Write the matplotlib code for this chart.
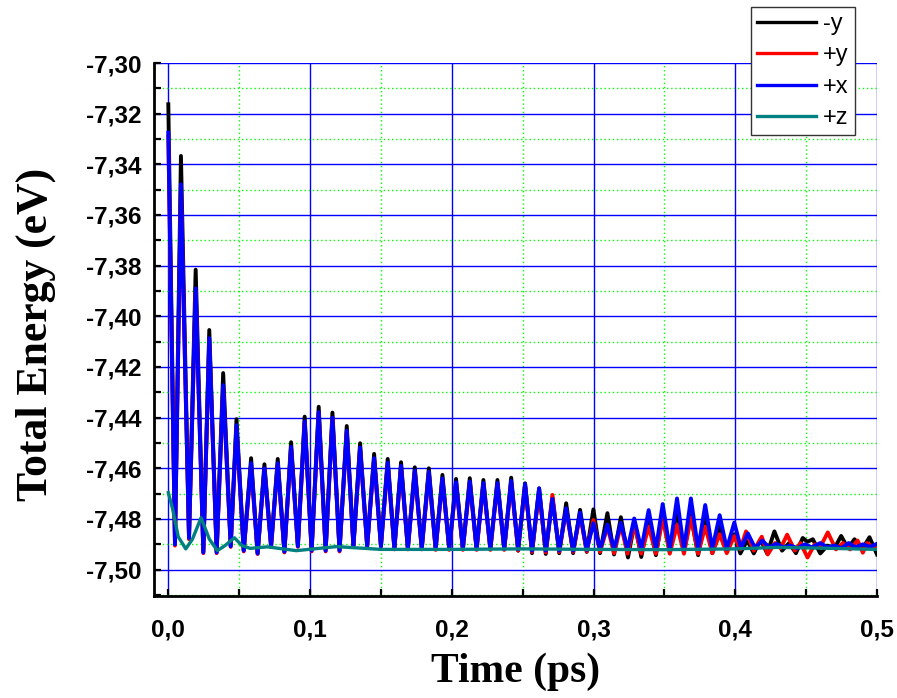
import numpy as np
import matplotlib.pyplot as plt
from matplotlib.ticker import MultipleLocator, FuncFormatter

# turning points (time in ps, energy in eV) of each trajectory
t_ymin = [0.0000, 0.0047, 0.0089, 0.0146, 0.0193, 0.0247, 0.0289, 0.0341, 0.0387, 0.0440,
          0.0481, 0.0532, 0.0584, 0.0630, 0.0678, 0.0725, 0.0772, 0.0819, 0.0866, 0.0914,
          0.0962, 0.1011, 0.1061, 0.1110, 0.1158, 0.1208, 0.1259, 0.1306, 0.1353, 0.1403,
          0.1452, 0.1500, 0.1548, 0.1595, 0.1642, 0.1690, 0.1739, 0.1788, 0.1838, 0.1886,
          0.1934, 0.1982, 0.2030, 0.2078, 0.2127, 0.2175, 0.2223, 0.2272, 0.2322, 0.2370,
          0.2419, 0.2468, 0.2517, 0.2566, 0.2616, 0.2663, 0.2710, 0.2758, 0.2807, 0.2856,
          0.2905, 0.2952, 0.2999, 0.3046, 0.3098, 0.3145, 0.3193, 0.3243, 0.3290, 0.3337,
          0.3389, 0.3440, 0.3488, 0.3538, 0.3589, 0.3638, 0.3687, 0.3738, 0.3788, 0.3838,
          0.3890, 0.3940, 0.3993, 0.4036, 0.4084, 0.4131, 0.4178, 0.4225, 0.4276, 0.4330,
          0.4380, 0.4428, 0.4476, 0.4510, 0.4547, 0.4600, 0.4650, 0.4700, 0.4747, 0.4795,
          0.4841, 0.4900, 0.4947, 0.5000]
e_ymin = [-7.3163, -7.4892, -7.3367, -7.4870, -7.3816, -7.4929, -7.4054, -7.4929, -7.4224, -7.4905,
          -7.4406, -7.4923, -7.4560, -7.4936, -7.4584, -7.4905, -7.4563, -7.4929, -7.4497, -7.4905,
          -7.4396, -7.4923, -7.4357, -7.4923, -7.4380, -7.4923, -7.4433, -7.4905, -7.4501, -7.4905,
          -7.4543, -7.4905, -7.4563, -7.4915, -7.4576, -7.4915, -7.4596, -7.4915, -7.4600, -7.4918,
          -7.4626, -7.4918, -7.4642, -7.4918, -7.4639, -7.4918, -7.4646, -7.4918, -7.4646, -7.4918,
          -7.4637, -7.4925, -7.4659, -7.4935, -7.4679, -7.4938, -7.4715, -7.4935, -7.4738, -7.4935,
          -7.4764, -7.4930, -7.4762, -7.4935, -7.4777, -7.4940, -7.4793, -7.4952, -7.4815, -7.4950,
          -7.4800, -7.4943, -7.4785, -7.4930, -7.4765, -7.4930, -7.4785, -7.4943, -7.4798, -7.4935,
          -7.4830, -7.4925, -7.4860, -7.4936, -7.4884, -7.4936, -7.4881, -7.4936, -7.4849, -7.4925,
          -7.4895, -7.4935, -7.4875, -7.4890, -7.4880, -7.4936, -7.4905, -7.4915, -7.4867, -7.4915,
          -7.4880, -7.4915, -7.4872, -7.4940]

t_yplus = [0.0000, 0.0047, 0.0089, 0.0146, 0.0193, 0.0247, 0.0289, 0.0341, 0.0387, 0.0440,
           0.0481, 0.0532, 0.0584, 0.0630, 0.0678, 0.0725, 0.0772, 0.0819, 0.0866, 0.0914,
           0.0962, 0.1011, 0.1061, 0.1110, 0.1158, 0.1208, 0.1259, 0.1306, 0.1353, 0.1403,
           0.1452, 0.1500, 0.1548, 0.1595, 0.1642, 0.1690, 0.1739, 0.1788, 0.1838, 0.1886,
           0.1934, 0.1982, 0.2030, 0.2078, 0.2127, 0.2175, 0.2223, 0.2272, 0.2322, 0.2370,
           0.2419, 0.2468, 0.2517, 0.2566, 0.2616, 0.2663, 0.2710, 0.2758, 0.2807, 0.2856,
           0.2905, 0.2952, 0.2999, 0.3046, 0.3098, 0.3145, 0.3193, 0.3240, 0.3287, 0.3337,
           0.3389, 0.3440, 0.3488, 0.3538, 0.3589, 0.3638, 0.3687, 0.3738, 0.3788, 0.3838,
           0.3890, 0.3940, 0.3993, 0.4035, 0.4076, 0.4130, 0.4187, 0.4229, 0.4280, 0.4320,
           0.4366, 0.4420, 0.4460, 0.4510, 0.4560, 0.4600, 0.4653, 0.4710, 0.4760, 0.4810,
           0.4863, 0.4900, 0.4930, 0.4980, 0.5000]
e_yplus = [-7.3290, -7.4905, -7.3490, -7.4880, -7.3900, -7.4935, -7.4095, -7.4935, -7.4280, -7.4910,
           -7.4440, -7.4928, -7.4588, -7.4938, -7.4606, -7.4910, -7.4586, -7.4932, -7.4520, -7.4910,
           -7.4420, -7.4928, -7.4384, -7.4928, -7.4405, -7.4928, -7.4458, -7.4910, -7.4522, -7.4910,
           -7.4565, -7.4910, -7.4583, -7.4920, -7.4595, -7.4920, -7.4615, -7.4920, -7.4619, -7.4922,
           -7.4645, -7.4922, -7.4660, -7.4922, -7.4657, -7.4922, -7.4663, -7.4922, -7.4663, -7.4922,
           -7.4655, -7.4925, -7.4668, -7.4930, -7.4690, -7.4932, -7.4705, -7.4930, -7.4765, -7.4930,
           -7.4785, -7.4928, -7.4804, -7.4930, -7.4830, -7.4935, -7.4825, -7.4937, -7.4824, -7.4937,
           -7.4830, -7.4937, -7.4798, -7.4937, -7.4824, -7.4937, -7.4794, -7.4937, -7.4830, -7.4935,
           -7.4860, -7.4935, -7.4868, -7.4920, -7.4849, -7.4925, -7.4870, -7.4940, -7.4895, -7.4915,
           -7.4862, -7.4925, -7.4895, -7.4952, -7.4900, -7.4910, -7.4853, -7.4920, -7.4895, -7.4920,
           -7.4885, -7.4933, -7.4895, -7.4915, -7.4905]

t_xplus = [0.0000, 0.0047, 0.0089, 0.0146, 0.0193, 0.0247, 0.0289, 0.0341, 0.0387, 0.0440,
           0.0481, 0.0532, 0.0584, 0.0630, 0.0678, 0.0725, 0.0772, 0.0819, 0.0866, 0.0914,
           0.0962, 0.1011, 0.1061, 0.1110, 0.1158, 0.1208, 0.1259, 0.1306, 0.1353, 0.1403,
           0.1452, 0.1500, 0.1548, 0.1595, 0.1642, 0.1690, 0.1739, 0.1788, 0.1838, 0.1886,
           0.1934, 0.1982, 0.2030, 0.2078, 0.2127, 0.2175, 0.2223, 0.2272, 0.2322, 0.2370,
           0.2419, 0.2468, 0.2517, 0.2566, 0.2616, 0.2663, 0.2710, 0.2758, 0.2807, 0.2856,
           0.2905, 0.2952, 0.2999, 0.3046, 0.3098, 0.3145, 0.3193, 0.3240, 0.3287, 0.3337,
           0.3389, 0.3440, 0.3488, 0.3538, 0.3589, 0.3638, 0.3687, 0.3738, 0.3788, 0.3838,
           0.3890, 0.3940, 0.3993, 0.4040, 0.4089, 0.4140, 0.4190, 0.4240, 0.4290, 0.4340,
           0.4390, 0.4440, 0.4490, 0.4540, 0.4600, 0.4650, 0.4700, 0.4750, 0.4800, 0.4850,
           0.4900, 0.4950, 0.5000]
e_xplus = [-7.3275, -7.4900, -7.3479, -7.4875, -7.3890, -7.4932, -7.4086, -7.4932, -7.4272, -7.4908,
           -7.4430, -7.4925, -7.4580, -7.4936, -7.4600, -7.4908, -7.4580, -7.4929, -7.4515, -7.4908,
           -7.4415, -7.4925, -7.4378, -7.4925, -7.4400, -7.4925, -7.4452, -7.4908, -7.4518, -7.4908,
           -7.4560, -7.4908, -7.4578, -7.4918, -7.4590, -7.4918, -7.4610, -7.4918, -7.4614, -7.4918,
           -7.4640, -7.4918, -7.4655, -7.4918, -7.4652, -7.4918, -7.4658, -7.4918, -7.4658, -7.4918,
           -7.4650, -7.4920, -7.4662, -7.4925, -7.4679, -7.4925, -7.4721, -7.4925, -7.4758, -7.4925,
           -7.4775, -7.4922, -7.4817, -7.4920, -7.4822, -7.4920, -7.4815, -7.4920, -7.4798, -7.4920,
           -7.4765, -7.4920, -7.4741, -7.4920, -7.4719, -7.4920, -7.4719, -7.4920, -7.4745, -7.4918,
           -7.4785, -7.4918, -7.4814, -7.4915, -7.4857, -7.4915, -7.4885, -7.4912, -7.4898, -7.4912,
           -7.4905, -7.4915, -7.4900, -7.4912, -7.4895, -7.4912, -7.4905, -7.4915, -7.4895, -7.4912,
           -7.4900, -7.4910, -7.4898]

t_zplus = [0.0000, 0.0030, 0.0070, 0.0123, 0.0170, 0.0231, 0.0290, 0.0346, 0.0400, 0.0466,
           0.0520, 0.0577, 0.0700, 0.0903, 0.1186, 0.1500, 0.2000, 0.2500, 0.3000, 0.3500,
           0.4000, 0.4300, 0.4600, 0.5000]
e_zplus = [-7.4696, -7.4760, -7.4870, -7.4918, -7.4880, -7.4795, -7.4880, -7.4925, -7.4905, -7.4874,
           -7.4905, -7.4916, -7.4910, -7.4925, -7.4909, -7.4920, -7.4920, -7.4918, -7.4920, -7.4921,
           -7.4918, -7.4912, -7.4915, -7.4920]

series = [
    (t_ymin, e_ymin, '-y', '#000000', 2.8),
    (t_yplus, e_yplus, '+y', '#ff0000', 2.8),
    (t_xplus, e_xplus, '+x', '#0000ff', 2.8),
    (t_zplus, e_zplus, '+z', '#008080', 2.4),
]

fig = plt.figure(figsize=(8.97, 6.98), dpi=100)
ax = fig.add_axes([154 / 897, 1 - 596 / 698, 723 / 897, 533 / 698])

for t, e, lab, col, lw in series:
    ax.plot(t, e, color=col, lw=lw, label=lab, solid_joinstyle='round')

ax.set_xlim(-0.0101, 0.5)
ax.set_ylim(-7.5104, -7.30)

ax.xaxis.set_major_locator(MultipleLocator(0.1))
ax.xaxis.set_minor_locator(MultipleLocator(0.05))
ax.yaxis.set_major_locator(MultipleLocator(0.02))
ax.yaxis.set_minor_locator(MultipleLocator(0.01))

ax.xaxis.set_major_formatter(FuncFormatter(lambda v, p: f'{v:.1f}'.replace('.', ',')))
ax.yaxis.set_major_formatter(FuncFormatter(lambda v, p: f'{v:.2f}'.replace('.', ',')))

ax.grid(which='major', color='#0000ff', lw=1.0, ls='-')
ax.grid(which='minor', color='#00ff00', lw=1.0, ls=(0, (1, 2)))
ax.set_axisbelow(True)

for side in ['top', 'right']:
    ax.spines[side].set_visible(False)
for side in ['left', 'bottom']:
    ax.spines[side].set_linewidth(2.0)

ax.tick_params(which='both', direction='in', length=5, width=1.6, color='black')
ax.tick_params(axis='y', which='major', pad=9)
ax.tick_params(axis='x', which='major', pad=16)
for lbl in ax.get_xticklabels() + ax.get_yticklabels():
    lbl.set_fontfamily('Liberation Sans')
    lbl.set_fontweight('bold')
    lbl.set_fontsize(17.5)

ax.set_xlabel('Time (ps)', fontfamily='Liberation Serif', fontweight='bold', fontsize=30)
ax.set_ylabel('Total Energy (eV)', fontfamily='Liberation Serif', fontweight='bold', fontsize=31.5)
ax.xaxis.set_label_coords(0.5, -0.143)
ax.xaxis.label.set_va('center')
ax.yaxis.set_label_coords(-0.163, 0.49)
ax.yaxis.label.set_va('center')

leg = fig.legend(loc='upper left', bbox_to_anchor=(751 / 897, 1 - 7 / 698),
                 prop={'family': 'Liberation Sans', 'size': 17},
                 handlelength=2.5, handletextpad=0.3, labelspacing=0.4,
                 borderpad=0.25, borderaxespad=0, fancybox=False, framealpha=1)
leg.get_frame().set_edgecolor('#333333')
leg.get_frame().set_linewidth(1.0)
for h in leg.get_lines():
    h.set_linewidth(2.4)

fig.savefig('out.png', dpi=100)
